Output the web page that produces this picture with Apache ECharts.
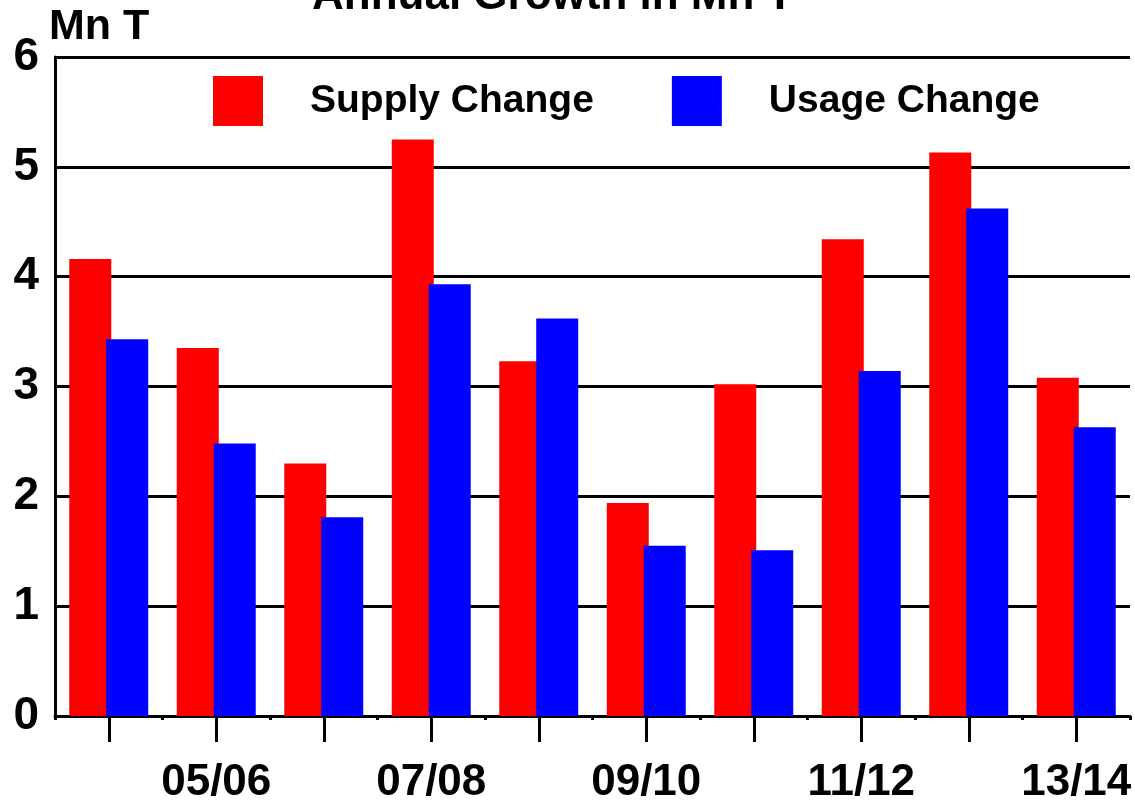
<!DOCTYPE html>
<html>
<head>
<meta charset="utf-8">
<script src="https://cdn.jsdelivr.net/npm/echarts@6/dist/echarts.min.js"></script>
<style>
    html, body { margin: 0; padding: 0; background: #fff; }
    #main { width: 1135px; height: 802px; }
</style>
</head>
<body>
<div id="main"></div>
<script>
let years = ['04/05', '05/06', '06/07', '07/08', '08/09', '09/10', '10/11', '11/12', '12/13', '13/14'];
let supply = [4.16, 3.35, 2.30, 5.25, 3.23, 1.94, 3.02, 4.34, 5.13, 3.08];
let usage = [3.43, 2.48, 1.81, 3.93, 3.62, 1.55, 1.51, 3.14, 4.62, 2.63];
let yTicks = [0, 6, 1];

let font = 'Liberation Sans, Arial, sans-serif';

let chart = echarts.init(document.querySelector('#main'));

let option = {
    animation: false,
    title: {
        text: 'Annual Growth in Mn T',
        left: 307,
        top: -30,
        textStyle: {
            fontFamily: font,
            fontSize: 44,
            fontWeight: 'bold',
            color: '#000'
        }
    },
    legend: {
        left: 213,
        top: 76,
        padding: 0,
        itemWidth: 50,
        itemHeight: 50,
        itemGap: 78,
        icon: 'rect',
        textStyle: {
            fontFamily: font,
            fontSize: 39,
            fontWeight: 'bold',
            color: '#000',
            padding: [4, 0, 0, 42]
        },
        data: ['Supply Change', 'Usage Change']
    },
    grid: {
        left: 55,
        right: 5,
        top: 57,
        bottom: 86,
        containLabel: false,
        outerBoundsMode: 'none'
    },
    xAxis: [{
        type: 'category',
        data: years,
        position: 'bottom',
        axisLine: {
            show: true,
            lineStyle: { color: '#000', width: 3 }
        },
        axisTick: {
            show: true,
            alignWithLabel: true,
            interval: 0,
            length: 26,
            lineStyle: { color: '#000', width: 3 }
        },
        axisLabel: {
            interval: function (index) {
                return index % 2 === 1;
            },
            margin: 45,
            fontFamily: font,
            fontSize: 44,
            fontWeight: 'bold',
            color: '#000'
        }
    }, {
        // short ticks between the groups
        type: 'category',
        data: years,
        position: 'bottom',
        offset: 0,
        axisLine: { show: false },
        axisTick: {
            show: true,
            interval: 0,
            length: 4,
            lineStyle: { color: '#000', width: 3 }
        },
        axisLabel: { show: false }
    }],
    yAxis: {
        type: 'value',
        min: yTicks[0],
        max: yTicks[1],
        interval: yTicks[2],
        name: 'Mn T',
        nameLocation: 'end',
        nameGap: 8,
        nameTextStyle: {
            fontFamily: font,
            fontSize: 43,
            fontWeight: 'bold',
            color: '#000',
            align: 'left',
            padding: [0, 0, 0, -6]
        },
        axisLine: {
            show: true,
            lineStyle: { color: '#000', width: 3 }
        },
        axisTick: { show: false },
        splitLine: {
            lineStyle: { color: '#000', width: 3 }
        },
        axisLabel: {
            margin: 16,
            fontFamily: font,
            fontSize: 46,
            fontWeight: 'bold',
            color: '#000'
        }
    },
    series: [{
        name: 'Supply Change',
        type: 'bar',
        xAxisIndex: 0,
        barWidth: 42,
        barGap: '-12%',
        itemStyle: { color: '#ff0000' },
        data: supply
    }, {
        name: 'Usage Change',
        type: 'bar',
        xAxisIndex: 0,
        barWidth: 42,
        barGap: '-12%',
        itemStyle: { color: '#0000ff' },
        data: usage
    }]
};

chart.setOption(option);
</script>
</body>
</html>
